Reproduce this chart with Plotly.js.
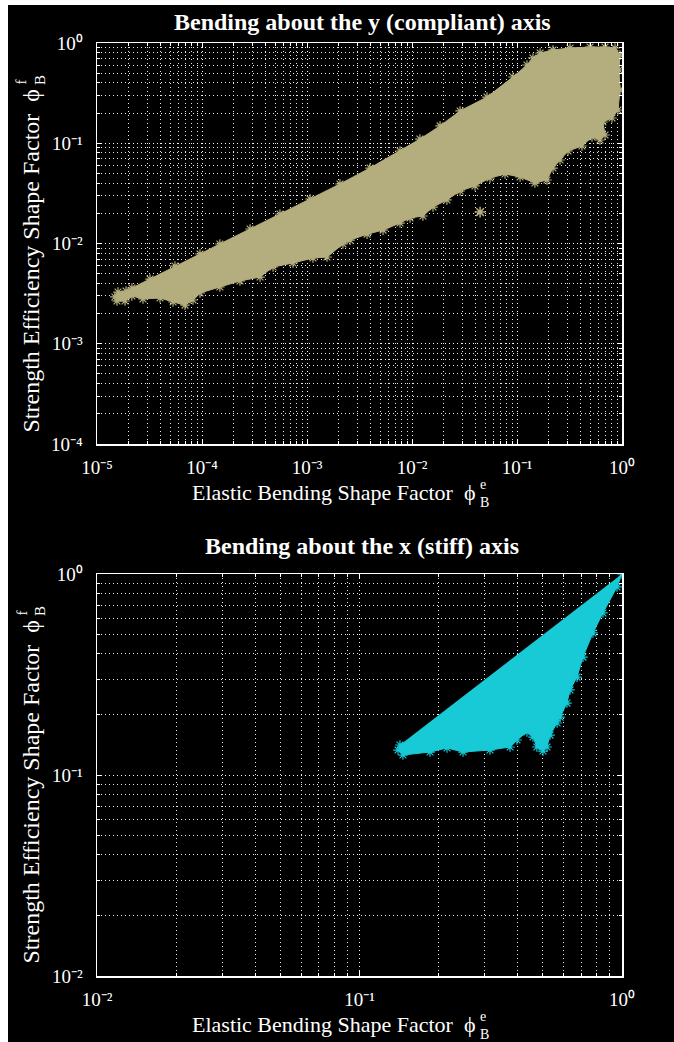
<!DOCTYPE html>
<html><head><meta charset="utf-8">
<script src="https://cdn.plot.ly/plotly-3.0.1.min.js"></script>
<style>html,body{margin:0;padding:0;background:#000;overflow:hidden;} #plot{width:674px;height:1042px;}</style>
</head><body><div id="plot"></div>
<script>
// ---- data ----
// Top panel: outline of the point cloud (bending about the compliant y axis)
const complX = [1.48e-5, 1.585e-5, 1.89e-5, 2.15e-5, 3.20e-5, 5.53e-5, 9.57e-5, 1.48e-4, 2.87e-4, 5.53e-4,
  1.07e-3, 2.06e-3, 3.98e-3, 7.69e-3, 1.19e-2, 1.85e-2, 2.87e-2, 5.18e-2, 9.16e-2, 0.1245,
  0.142, 0.166, 0.220, 0.320, 0.496, 0.689, 0.858, 0.957, 0.936, 0.957,
  0.916, 0.803, 0.659, 0.689, 0.617, 0.518, 0.416, 0.306, 0.257, 0.220,
  0.193, 0.148, 0.107, 7.69e-2, 5.53e-2, 3.98e-2, 2.87e-2, 2.15e-2, 1.585e-2, 1.27e-2,
  9.57e-3, 7.69e-3, 5.30e-3, 3.73e-3, 2.57e-3, 2.20e-3, 1.55e-3, 1.14e-3, 7.36e-4, 4.75e-4,
  3.57e-4, 2.30e-4, 1.48e-4, 9.57e-5, 8.21e-5, 6.89e-5, 5.30e-5, 3.98e-5, 2.74e-5, 2.15e-5,
  1.85e-5, 1.55e-5];
const complY = [2.93e-3, 3.28e-3, 3.36e-3, 3.60e-3, 4.42e-3, 5.96e-3, 7.86e-3, 9.89e-3, 1.395e-2, 1.97e-2,
  2.78e-2, 3.92e-2, 5.66e-2, 8.37e-2, 0.110, 0.149, 0.210, 0.289, 0.458, 0.603,
  0.709, 0.795, 0.852, 0.891, 0.912, 0.912, 0.891, 0.759, 0.538, 0.340,
  0.2146, 0.1786, 0.1629, 0.1209, 0.1077, 0.1154, 0.0939, 0.0837, 0.0681, 0.0566,
  0.0430, 0.0401, 0.0461, 0.0493, 0.0450, 0.0375, 0.0334, 0.0272, 0.0231, 0.0188,
  0.0180, 0.0160, 0.0136, 0.0124, 0.0108, 0.00989, 0.00733, 0.00717, 0.00639, 0.00583,
  0.00463, 0.00423, 0.00368, 0.00321, 0.00273, 0.00243, 0.00261, 0.00286, 0.00280, 0.00300,
  0.00267, 0.00267];
const complStrayX = [0.0445];
const complStrayY = [0.0206];

// Bottom panel: outline of the point cloud (bending about the stiff x axis)
const stiffX = [1.0, 0.957, 0.846, 0.775, 0.710, 0.674, 0.634, 0.617, 0.581, 0.566,
  0.532, 0.518, 0.500, 0.474, 0.458, 0.4345, 0.398, 0.3745, 0.314, 0.248,
  0.2154, 0.1856, 0.1464, 0.1402, 0.1426];
const stiffY = [1.0, 0.862, 0.640, 0.509, 0.386, 0.307, 0.265, 0.228, 0.194, 0.1814,
  0.158, 0.1378, 0.1316, 0.1378, 0.1545, 0.1637, 0.1493, 0.1378, 0.1331, 0.1301,
  0.1363, 0.1301, 0.1257, 0.1331, 0.141];

// Tick values and labels
const topXTicks = [1e-5, 1e-4, 1e-3, 1e-2, 1e-1, 1];
const topXLabels = ['10\u207B\u2075', '10\u207B\u2074', '10\u207B\u00B3', '10\u207B\u00B2', '10\u207B\u00B9', '10\u2070'];
const topYTicks = [1e-4, 1e-3, 1e-2, 1e-1, 1];
const topYLabels = ['10\u207B\u2074', '10\u207B\u00B3', '10\u207B\u00B2', '10\u207B\u00B9', '10\u2070'];
const botTicks = [1e-2, 1e-1, 1];
const botLabels = ['10\u207B\u00B2', '10\u207B\u00B9', '10\u2070'];

const titles = ['Bending about the y (compliant) axis', 'Bending about the x (stiff) axis'];
const xTitle = 'Elastic Bending Shape Factor  \u03D5';
const yTitle = 'Strength Efficiency Shape Factor  \u03D5';

// ---- styling ----
const SERIF = '"Liberation Serif", "Times New Roman", Times, serif';
const KHAKI = '#B4AE7E';
const CYAN = '#18C9D6';
const W = 674, H = 1042;
const P = px => px / W;
const Q = py => 1 - py / H;
const GRID = 'rgba(255,255,255,0.9)';

function axis(domain, anchor, range, vals, text, standoff) {
  return {
    type: 'log', domain: domain, anchor: anchor, range: range,
    tickmode: 'array', tickvals: vals, ticktext: text,
    ticks: 'inside', ticklen: 5, tickwidth: 1, tickcolor: 'white',
    showline: true, linecolor: 'white', linewidth: 1.5, mirror: 'ticks',
    showgrid: true, gridcolor: GRID, griddash: '1px,3px', gridwidth: 1,
    zeroline: false, ticklabelstandoff: standoff,
    tickfont: {family: SERIF, size: 19, color: 'white'},
    minor: {dtick: 'D1', ticks: 'inside', ticklen: 3, tickwidth: 1, tickcolor: 'white',
            showgrid: true, gridcolor: GRID, griddash: '1px,3px', gridwidth: 1}
  };
}

function cloud(x, y, color, xa, ya) {
  return {
    type: 'scatter', x: x, y: y, xaxis: xa, yaxis: ya,
    mode: 'lines+markers', fill: 'toself', fillcolor: color,
    line: {color: color, width: 1},
    marker: {symbol: 'asterisk-open', size: 8, color: color, line: {color: color, width: 1.2}},
    hoverinfo: 'skip', showlegend: false
  };
}

const traces = [
  cloud(complX, complY, KHAKI, 'x', 'y'),
  {type: 'scatter', x: complStrayX, y: complStrayY, xaxis: 'x', yaxis: 'y', mode: 'markers',
   marker: {symbol: 'asterisk-open', size: 9, color: KHAKI, line: {color: KHAKI, width: 1.5}},
   showlegend: false, hoverinfo: 'skip'},
  cloud(stiffX, stiffY, CYAN, 'x2', 'y2')
];

const annFont = s => ({family: SERIF, size: s, color: 'white'});
function axisTitles(dy) {
  return [
    // x-axis title with stacked super/subscript
    {text: xTitle, x: P(477), y: Q(493 + dy), xanchor: 'right', yanchor: 'middle', font: annFont(22)},
    {text: 'e', x: P(478), y: Q(485 + dy), xanchor: 'left', yanchor: 'middle', font: annFont(14)},
    {text: 'B', x: P(478), y: Q(503 + dy), xanchor: 'left', yanchor: 'middle', font: annFont(14)},
    // y-axis title (rotated) with stacked super/subscript
    {text: yTitle, textangle: -90, x: P(30), y: Q(88 + dy), xanchor: 'center', yanchor: 'top', font: annFont(24)},
    {text: 'f', textangle: -90, x: P(21), y: Q(87 + dy), xanchor: 'center', yanchor: 'bottom', font: annFont(15)},
    {text: 'B', textangle: -90, x: P(40), y: Q(87 + dy), xanchor: 'center', yanchor: 'bottom', font: annFont(15)}
  ];
}

const annotations = [
  {text: '<b>' + titles[0] + '</b>', x: P(362), y: Q(22), xanchor: 'center', yanchor: 'middle', font: annFont(24)},
  {text: '<b>' + titles[1] + '</b>', x: P(362), y: Q(546), xanchor: 'center', yanchor: 'middle', font: annFont(24)}
].concat(axisTitles(0), axisTitles(531)).map(a => Object.assign({xref: 'paper', yref: 'paper', showarrow: false}, a));

const layout = {
  width: W, height: H,
  margin: {l: 0, r: 0, t: 0, b: 0, pad: 0},
  paper_bgcolor: '#000', plot_bgcolor: '#000',
  showlegend: false,
  xaxis: axis([P(97), P(622)], 'y', [-5, 0], topXTicks, topXLabels, 6),
  yaxis: axis([Q(444), Q(43)], 'x', [-4, 0], topYTicks, topYLabels, 9),
  xaxis2: axis([P(97), P(622)], 'y2', [-2, 0], botTicks, botLabels, 6),
  yaxis2: axis([Q(976), Q(574)], 'x2', [-2, 0], botTicks, botLabels, 9),
  annotations: annotations,
  shapes: [
    {type: 'rect', xref: 'paper', yref: 'paper', x0: 0, x1: 1, y0: Q(5), y1: 1, fillcolor: '#fff', line: {width: 0}, layer: 'above'},
    {type: 'rect', xref: 'paper', yref: 'paper', x0: 0, x1: P(8), y0: 0, y1: 1, fillcolor: '#fff', line: {width: 0}, layer: 'above'}
  ]
};

Plotly.newPlot('plot', traces, layout, {staticPlot: true, displayModeBar: false});
</script></body></html>
